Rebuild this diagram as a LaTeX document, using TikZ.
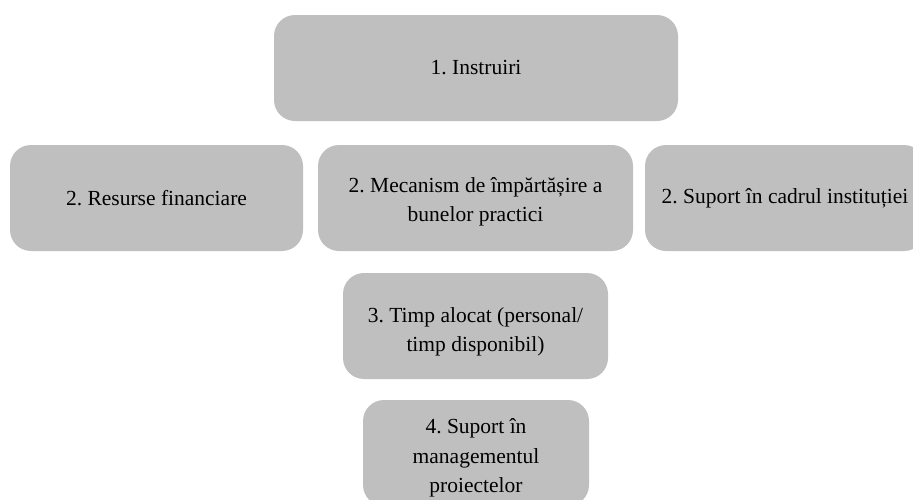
\documentclass[tikz,border=0pt]{standalone}
\usepackage{fontspec}
\setmainfont{Liberation Serif}
\definecolor{boxgray}{HTML}{BFBFBF}
\begin{document}
\frenchspacing
\begin{tikzpicture}[x=1pt,y=-1pt,
  box/.style={fill=boxgray, draw=none, rounded corners=21pt, inner sep=0pt,
    minimum height=106pt},
  txt/.style={inner sep=0pt, align=center, text=black,
    font=\fontsize{21.5}{29.6}\selectfont}]
\useasboundingbox (0,0) rectangle (913,499);
\clip (0,0) rectangle (913,499);
% level 1
\node[box, minimum width=404pt] (instr) at (476,68) {};
\node[txt] (instrT) at (instr.center) {1. Instruiri};
% level 2
\node[box, minimum width=293pt] (fin) at (156.5,198) {};
\node[txt] (finT) at (fin.center) {2. Resurse financiare};
\node[box, minimum width=315pt] (mec) at (475.5,198) {};
\node[txt, yshift=-4pt] (mecT) at (mec.center) {2. Mecanism de împărtășire a\\bunelor practici};
\node[box, minimum width=280pt] (inst) at (785,198) {};
\node[txt] (instT) at (inst.center) {2. Suport în cadrul instituției};
% level 3
\node[box, minimum width=265pt] (timp) at (475.5,326) {};
\node[txt, yshift=-6pt] (timpT) at (timp.center) {3. Timp alocat (personal/\\timp disponibil)};
% level 4
\node[box, minimum width=226pt] (mgmt) at (476,453) {};
\node[txt, yshift=-5pt] (mgmtT) at (mgmt.center) {4. Suport în\\managementul\\proiectelor};
\end{tikzpicture}
\end{document}
